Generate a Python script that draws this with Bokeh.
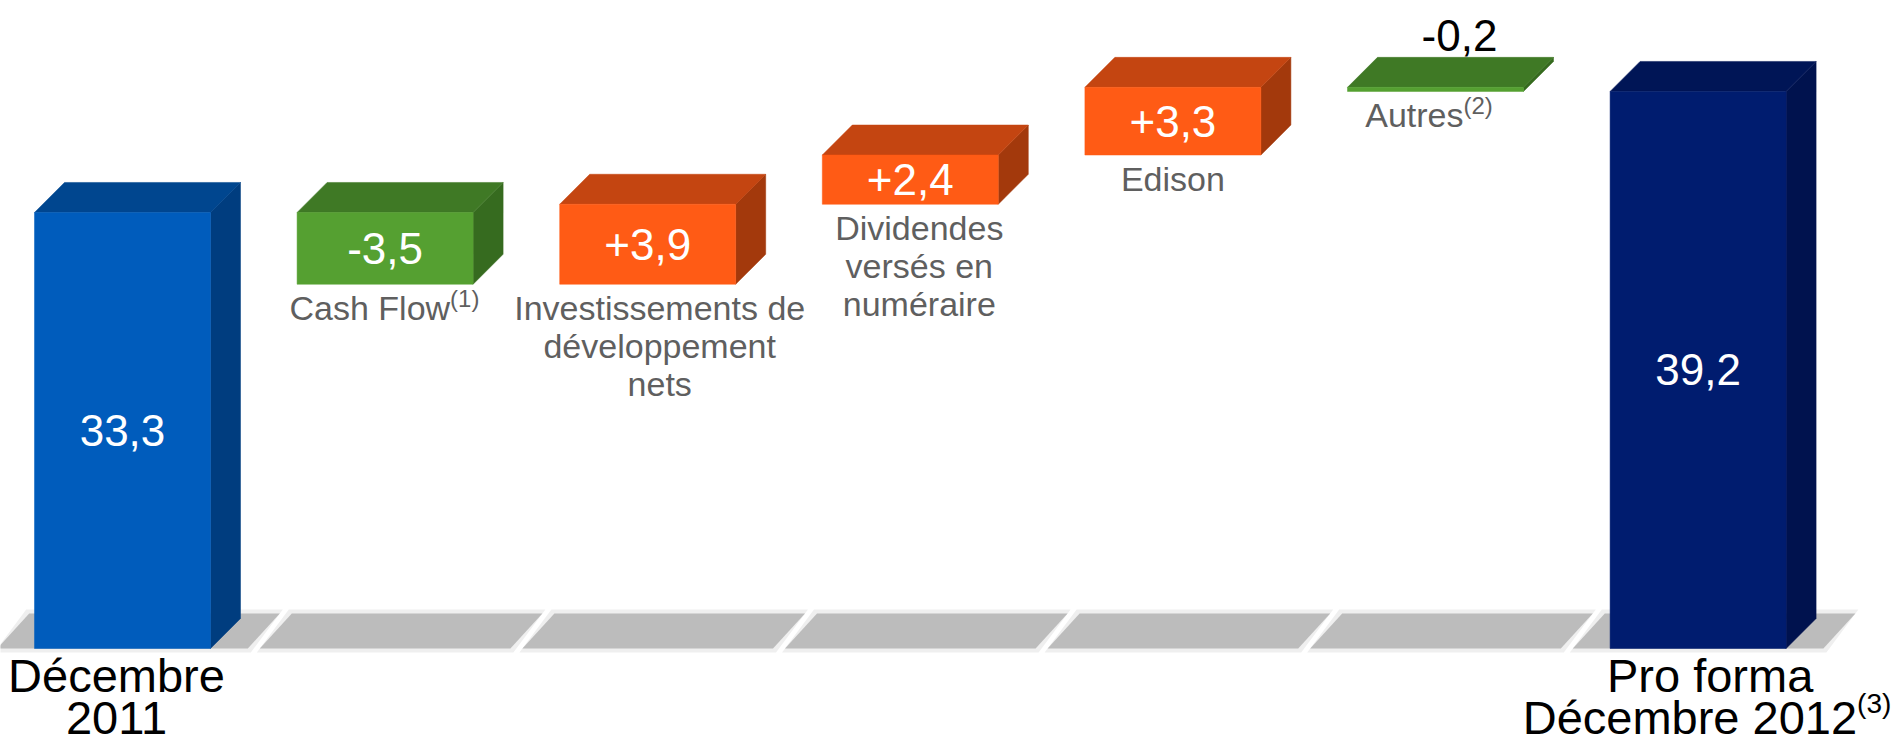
from bokeh.plotting import figure
from bokeh.models import Range1d
from bokeh.core.properties import value
from bokeh.embed import file_html
from bokeh.resources import INLINE

# ---------------- data ----------------
categories = ["Décembre\n2011", "Cash Flow", "Investissements de\ndéveloppement\nnets",
              "Dividendes\nversés en\nnuméraire", "Edison", "Autres", "Pro forma\nDécembre 2012"]
footnotes = ["", "(1)", "", "", "", "(2)", "(3)"]
values = [33.3, -3.5, 3.9, 2.4, 3.3, -0.2, 39.2]
kinds = ["total", "delta", "delta", "delta", "delta", "delta", "total"]
axis_base = 12.04  # truncated value axis: level of the floor

# ---------------- style / layout ----------------
W, H = 1897, 743
PX_X = 262.6          # pixels per category
PX_Y = 20.51          # pixels per unit
X0_PX = 122           # canvas x of first category centre
FLOOR_PX = 648        # canvas y of floor front edge
BAR_W = 176 / PX_X
DX, DY = 30 / PX_X, 30 / PX_Y          # 3-D depth of bars
FDX, FDY = 32 / PX_X, 35 / PX_Y        # depth of floor
GAP = 6 / PX_X

FONT = value("Liberation Sans")
palette = {
    "first": ("#005CBC", "#00468F", "#003D7F"),
    "last": ("#001C6F", "#001556", "#00124E"),
    "pos": ("#FF5B15", "#C44511", "#A3390C"),
    "neg": ("#55A031", "#3F7925", "#366B1F"),
}
label_dx_px = [-6, 0, 12, 9, 0, -4, 12]
sup_join_px = [0, 65, 0, 0, 0, 28, 159]

p = figure(width=W, height=H, output_backend="svg", toolbar_location=None,
           x_range=Range1d(-X0_PX / PX_X, (W - X0_PX) / PX_X),
           y_range=Range1d(axis_base - (H - FLOOR_PX) / PX_Y, axis_base + FLOOR_PX / PX_Y),
           x_axis_location=None, y_axis_location=None, min_border=0,
           outline_line_color=None, background_fill_color="white")
p.grid.visible = False

n = len(categories)
xs_c = list(range(n))

# ---------------- floor ----------------
fl_xs, fl_ys, fb_xs, fb_ys = [], [], [], []
for i in xs_c:
    xl, xr = i - 0.5 + GAP, i + 0.5 - GAP
    fl_xs.append([xl, xr, xr + FDX, xl + FDX])
    fl_ys.append([axis_base, axis_base, axis_base + FDY, axis_base + FDY])
    e = 4 / PX_Y
    ex = 3 / PX_X
    fb_xs.append([xl - ex, xr + ex, xr + FDX + ex, xl + FDX - ex])
    fb_ys.append([axis_base - e, axis_base - e, axis_base + FDY + e, axis_base + FDY + e])
p.patches(fb_xs, fb_ys, fill_color="#EFEFEF", line_color=None)
p.patches(fl_xs, fl_ys, fill_color="#BCBCBC", line_color=None)

# ---------------- bars ----------------
bottoms, tops, styles = [], [], []
running = 0.0
for i, (v, k) in enumerate(zip(values, kinds)):
    if k == "total":
        b, t = axis_base, v
        running = v
        styles.append("first" if i == 0 else "last")
    else:
        new = running + v
        b, t = min(running, new), max(running, new)
        running = new
        styles.append("pos" if v > 0 else "neg")
    bottoms.append(b)
    tops.append(t)

hw = BAR_W / 2
front_x, front_y, top_x, top_y, side_x, side_y = [], [], [], [], [], []
fc, tc, sc = [], [], []
for i in xs_c:
    b, t = bottoms[i], tops[i]
    front_x.append([i - hw, i + hw, i + hw, i - hw])
    front_y.append([b, b, t, t])
    top_x.append([i - hw, i + hw, i + hw + DX, i - hw + DX])
    top_y.append([t, t, t + DY, t + DY])
    side_x.append([i + hw, i + hw + DX, i + hw + DX, i + hw])
    side_y.append([b, b + DY, t + DY, t])
    f, tt, s = palette[styles[i]]
    fc.append(f); tc.append(tt); sc.append(s)

p.patches(side_x, side_y, fill_color=sc, line_color=sc, line_width=0.5)
p.patches(top_x, top_y, fill_color=tc, line_color=tc, line_width=0.5)
p.patches(front_x, front_y, fill_color=fc, line_color=fc, line_width=0.5)

# ---------------- value labels ----------------
VAL_SIZE = 44
in_x, in_y, in_t, out_x, out_y, out_t = [], [], [], [], [], []
for i, (v, k) in enumerate(zip(values, kinds)):
    txt = (f"{v:.1f}" if k == "total" else f"{v:+.1f}").replace(".", ",")
    h_px = (tops[i] - bottoms[i]) * PX_Y
    if h_px > 30:
        in_x.append(i)
        in_y.append((tops[i] + bottoms[i]) / 2)
        in_t.append(txt)
    else:
        out_x.append(i + 24 / PX_X)
        out_y.append(tops[i] + DY + 22 / PX_Y)
        out_t.append(txt)
p.text(in_x, in_y, text=in_t, text_color="white", text_font=FONT,
       text_font_size=value(f"{VAL_SIZE}px"), text_align="center", text_baseline="alphabetic")
p.text(out_x, out_y, text=out_t, text_color="black", text_font=FONT,
       text_font_size=value(f"{VAL_SIZE}px"), text_align="center", text_baseline="alphabetic")

# ---------------- category labels ----------------
for i, (cat, k) in enumerate(zip(categories, kinds)):
    lines = cat.split("\n")
    if k == "total":
        size, color, first_off, step = 47, "black", 27, 42
        y0 = axis_base
        sup_size = 28
    else:
        size, color, first_off, step = 34, "#5F5F5F", 24, 38
        y0 = bottoms[i]
        sup_size = 24
    cx = i + label_dx_px[i] / PX_X
    for j, line in enumerate(lines):
        y = y0 - (first_off + step * j) / PX_Y
        last = (j == len(lines) - 1)
        if last and footnotes[i]:
            jx = i + sup_join_px[i] / PX_X
            p.text([jx], [y], text=[line], text_color=color, text_font=FONT,
                   text_font_size=value(f"{size}px"), text_align="right", text_baseline="alphabetic")
            p.text([jx], [y + 0.3 * size / PX_Y], text=[footnotes[i]], text_color=color,
                   text_font=FONT, text_font_size=value(f"{sup_size}px"),
                   text_align="left", text_baseline="alphabetic")
        else:
            p.text([cx], [y], text=[line], text_color=color, text_font=FONT,
                   text_font_size=value(f"{size}px"), text_align="center", text_baseline="alphabetic")

open("out.html", "w").write(file_html(p, INLINE))
